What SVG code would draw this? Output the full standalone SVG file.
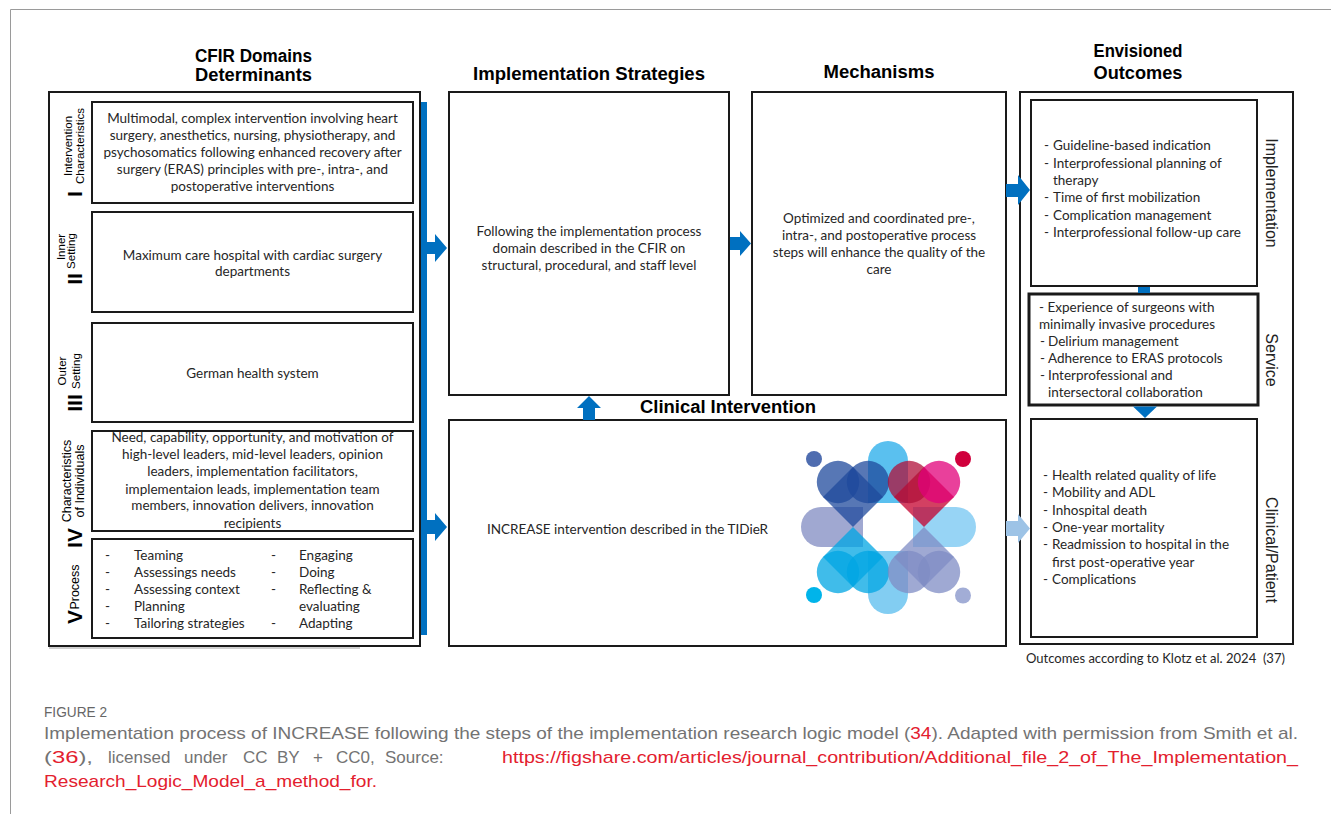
<svg xmlns="http://www.w3.org/2000/svg" width="1331" height="814" viewBox="0 0 1331 814">
<style>
.box{fill:#fff;stroke:#1a1a1a;stroke-width:2}
.t{font-family:Lato,'Liberation Sans',sans-serif;font-size:13.5px;fill:#262626}
.c{text-anchor:middle}
.h{font-family:'Liberation Sans',Arial,sans-serif;font-weight:bold;font-size:18px;fill:#000;text-anchor:middle}
.lab{font-family:'Liberation Sans',Arial,sans-serif;font-size:11.5px;fill:#000;text-anchor:middle}
.num{font-family:'Liberation Sans',Arial,sans-serif;font-weight:bold;font-size:21px;fill:#000;text-anchor:middle}
.side{font-family:'Liberation Sans',Arial,sans-serif;font-size:16px;fill:#222;text-anchor:middle}
.blue{fill:#0070C0}
.cap{font-family:'Liberation Sans',Arial,sans-serif;font-size:17px;fill:#737373}
.red{fill:#E3202E}
.lg{opacity:0.75}
</style>
<rect width="1331" height="814" fill="#fff"/>
<path d="M10.5,814 V9.5 H1331" fill="none" stroke="#9a9a9a" stroke-width="1"/>

<!-- headers -->
<g id="headers">
<text class="h" x="253.5" y="62" textLength="117" lengthAdjust="spacingAndGlyphs">CFIR Domains</text>
<text class="h" x="253.5" y="81" textLength="117" lengthAdjust="spacingAndGlyphs">Determinants</text>
<text class="h" x="589" y="80" textLength="232" lengthAdjust="spacingAndGlyphs">Implementation Strategies</text>
<text class="h" x="879" y="78" textLength="111" lengthAdjust="spacingAndGlyphs">Mechanisms</text>
<text class="h" x="1138" y="57" textLength="89" lengthAdjust="spacingAndGlyphs">Envisioned</text>
<text class="h" x="1138" y="79" textLength="89" lengthAdjust="spacingAndGlyphs">Outcomes</text>
<text class="h" x="728" y="413" textLength="176" lengthAdjust="spacingAndGlyphs">Clinical Intervention</text>
</g>

<!-- CFIR column -->
<g id="cfir">
<rect class="box" x="49" y="92" width="371" height="554"/>
<line x1="49" y1="648" x2="360" y2="648" stroke="#a0a0a0" stroke-width="1"/>
</g>

<g id="cfir-I">
<rect class="box" x="92" y="102" width="321" height="101"/>
<text class="lab" transform="translate(72,146) rotate(-90)">Intervention</text>
<text class="lab" transform="translate(84,146) rotate(-90)">Characteristics</text>
<text class="num" transform="translate(82,194) rotate(-90)">I</text>
<text class="t c" x="252.5" y="123">Multimodal, complex intervention involving heart</text>
<text class="t c" x="252.5" y="140">surgery, anesthetics, nursing, physiotherapy, and</text>
<text class="t c" x="252.5" y="157">psychosomatics following enhanced recovery after</text>
<text class="t c" x="252.5" y="174">surgery (ERAS) principles with pre-, intra-, and</text>
<text class="t c" x="252.5" y="191">postoperative interventions</text>
</g>

<g id="cfir-II">
<rect class="box" x="92" y="212" width="321" height="100"/>
<text class="lab" transform="translate(65,247) rotate(-90)">Inner</text>
<text class="lab" transform="translate(75,251) rotate(-90)">Setting</text>
<text class="num" transform="translate(82,279) rotate(-90)">II</text>
<text class="t c" x="252.5" y="259.5">Maximum care hospital with cardiac surgery</text>
<text class="t c" x="252.5" y="275.5">departments</text>
</g>

<g id="cfir-III">
<rect class="box" x="92" y="323" width="321" height="99"/>
<text class="lab" transform="translate(66,371) rotate(-90)">Outer</text>
<text class="lab" transform="translate(80,371) rotate(-90)">Setting</text>
<text class="num" transform="translate(82,403) rotate(-90)">III</text>
<text class="t c" x="252.5" y="377.5">German health system</text>
</g>

<g id="cfir-IV">
<rect class="box" x="92" y="431" width="321" height="100"/>
<text class="lab" style="font-size:12.5px" transform="translate(71,481) rotate(-90)">Characteristics</text>
<text class="lab" style="font-size:12.5px" transform="translate(84,481) rotate(-90)">of Individuals</text>
<text class="num" transform="translate(82,538) rotate(-90)">IV</text>
<text class="t c" x="252.5" y="442">Need, capability, opportunity, and motivation of</text>
<text class="t c" x="252.5" y="459">high-level leaders, mid-level leaders, opinion</text>
<text class="t c" x="252.5" y="476">leaders, implementation facilitators,</text>
<text class="t c" x="252.5" y="493.5">implementaion leads, implementation team</text>
<text class="t c" x="252.5" y="510">members, innovation delivers, innovation</text>
<text class="t c" x="252.5" y="528">recipients</text>
</g>

<g id="cfir-V">
<rect class="box" x="92" y="539" width="321" height="99"/>
<text class="lab" style="font-size:12.5px" transform="translate(79,587) rotate(-90)">Process</text>
<text class="num" transform="translate(82,617) rotate(-90)">V</text>
<g class="t">
<text x="105" y="560">-</text><text x="134" y="560">Teaming</text>
<text x="105" y="577">-</text><text x="134" y="577">Assessings needs</text>
<text x="105" y="594">-</text><text x="134" y="594">Assessing context</text>
<text x="105" y="611">-</text><text x="134" y="611">Planning</text>
<text x="105" y="628">-</text><text x="134" y="628">Tailoring strategies</text>
<text x="271" y="560">-</text><text x="299" y="560">Engaging</text>
<text x="271" y="577">-</text><text x="299" y="577">Doing</text>
<text x="271" y="594">-</text><text x="299" y="594">Reflecting &amp;</text>
<text x="299" y="611">evaluating</text>
<text x="271" y="628">-</text><text x="299" y="628">Adapting</text>
</g>
</g>

<!-- Implementation strategies -->
<g id="impl-strategies">
<rect class="box" x="449" y="92" width="280" height="303"/>
<text class="t c" x="589" y="235.5">Following the implementation process</text>
<text class="t c" x="589" y="252.5">domain described in the CFIR on</text>
<text class="t c" x="589" y="269.5">structural, procedural, and staff level</text>
</g>

<!-- Mechanisms -->
<g id="mechanisms">
<rect class="box" x="752" y="92" width="254" height="303"/>
<text class="t c" x="879" y="222.5">Optimized and coordinated pre-,</text>
<text class="t c" x="879" y="239.5">intra-, and postoperative process</text>
<text class="t c" x="879" y="256.5">steps will enhance the quality of the</text>
<text class="t c" x="879" y="274">care</text>
</g>

<!-- Clinical intervention -->
<g id="clinical-intervention">
<rect class="box" x="449" y="420" width="557" height="226"/>
<text class="t" x="487" y="533.5">INCREASE intervention described in the TIDieR</text>
<g id="logo">
<circle cx="814" cy="459" r="8" fill="#4F6DB0"/>
<circle cx="963" cy="459" r="8" fill="#D0003C"/>
<circle cx="814" cy="595" r="8" fill="#00B4EA"/>
<circle cx="963" cy="595.5" r="8" fill="#A2ADD6"/>
<path d="M868,503 L868,461 A20,20 0 0 1 908,461 L908,503 Z" fill="#3DB5EC" opacity="0.85"/>
<path d="M868,551 L868,594 A20,20 0 0 0 908,594 L908,551 Z" fill="#6CC4F0" opacity="0.85"/>
<path d="M863,507 L821,507 A20,20 0 0 0 821,547 L863,547 Z" fill="#8F99C9" opacity="0.85"/>
<path d="M913,507 L956,507 A20,20 0 0 1 956,547 L913,547 Z" fill="#85CCF3" opacity="0.85"/>
<g fill="#1F4A9C">
<polygon class="lg" points="853,527 823,497 853,467 883,497"/>
<circle class="lg" cx="838" cy="482" r="21.2"/>
<circle class="lg" cx="868" cy="482" r="21.2"/>
</g>
<g>
<polygon class="lg" fill="#C4002E" points="924,527 894,497 924,467 954,497"/>
<circle class="lg" fill="#B0103A" cx="909" cy="482" r="21.2"/>
<circle class="lg" fill="#E2007A" cx="939" cy="482" r="21.2"/>
</g>
<g fill="#00A6E3">
<polygon class="lg" points="853,527 883,557 853,587 823,557"/>
<circle class="lg" cx="838" cy="572" r="21.2"/>
<circle class="lg" cx="868" cy="572" r="21.2"/>
</g>
<g fill="#7F8CC4">
<polygon class="lg" points="924,527 954,557 924,587 894,557"/>
<circle class="lg" cx="909" cy="572" r="21.2"/>
<circle class="lg" cx="939" cy="572" r="21.2"/>
</g>
</g>
</g>

<!-- Outcomes -->
<g id="outcomes">
<rect class="box" x="1020" y="92" width="273" height="552"/>
<text class="side" transform="translate(1266,193) rotate(90)">Implementation</text>
<text class="side" transform="translate(1266,360) rotate(90)">Service</text>
<text class="side" transform="translate(1266,550) rotate(90)">Clinical/Patient</text>
</g>

<g id="outcome-implementation">
<rect class="box" x="1031" y="100" width="226" height="186"/>
<g class="t">
<text x="1044" y="150">-</text><text x="1053" y="150">Guideline-based indication</text>
<text x="1044" y="167.5">-</text><text x="1053" y="167.5">Interprofessional planning of</text>
<text x="1053" y="184.5">therapy</text>
<text x="1044" y="202">-</text><text x="1053" y="202">Time of first mobilization</text>
<text x="1044" y="219.5">-</text><text x="1053" y="219.5">Complication management</text>
<text x="1044" y="237">-</text><text x="1053" y="237">Interprofessional follow-up care</text>
</g>
</g>

<g id="outcome-service">
<rect class="box" x="1029" y="294" width="229" height="111" style="stroke-width:3"/>
<g class="t">
<text x="1039" y="311.5">- Experience of surgeons with</text>
<text x="1039" y="328.5">minimally invasive procedures</text>
<text x="1040" y="345.5">-</text><text x="1048" y="345.5">Delirium management</text>
<text x="1040" y="362.5">-</text><text x="1048" y="362.5">Adherence to ERAS protocols</text>
<text x="1040" y="379.5">-</text><text x="1048" y="379.5">Interprofessional and</text>
<text x="1048" y="396.5">intersectoral collaboration</text>
</g>
</g>

<g id="outcome-clinical">
<rect class="box" x="1031" y="419" width="226" height="218"/>
<g class="t">
<text x="1043" y="479.5">-</text><text x="1052" y="479.5">Health related quality of life</text>
<text x="1043" y="497">-</text><text x="1052" y="497">Mobility and ADL</text>
<text x="1043" y="514.5">-</text><text x="1052" y="514.5">Inhospital death</text>
<text x="1043" y="531.5">-</text><text x="1052" y="531.5">One-year mortality</text>
<text x="1043" y="549">-</text><text x="1052" y="549">Readmission to hospital in the</text>
<text x="1052" y="566.5">first post-operative year</text>
<text x="1043" y="583.5">-</text><text x="1052" y="583.5">Complications</text>
</g>
</g>

<text class="t" x="1026" y="663" textLength="259" lengthAdjust="spacingAndGlyphs">Outcomes according to Klotz et al. 2024&#160; (37)</text>

<!-- connectors -->
<g id="connectors">
<rect class="blue" x="421" y="102" width="6" height="533"/>
<polygon class="blue" points="427,242 435,242 435,234 447,248 435,262 435,254 427,254"/>
<polygon class="blue" points="427,520 435,520 435,513 447,527 435,541 435,534 427,534"/>
<polygon class="blue" points="730,237 740,237 740,231 751,243.5 740,256 740,250 730,250"/>
<polygon class="blue" points="1006,184 1018,184 1018,175 1030,190 1018,205 1018,197 1006,197"/>
<polygon fill="#9DC3E6" points="1006,521 1018,521 1018,514 1030,528.5 1018,543 1018,536 1006,536"/>
<polygon class="blue" points="583,420 583,408 577,408 589,396 601,408 595,408 595,420"/>
<rect class="blue" x="1138" y="287" width="12" height="6"/>
<polygon class="blue" points="1133,406.5 1157,406.5 1145,418"/>
</g>

<!-- caption -->
<g id="caption">
<text class="cap" x="44" y="717" style="font-size:15px;fill:#666" textLength="63" lengthAdjust="spacingAndGlyphs">FIGURE 2</text>
<text class="cap" x="44" y="739" textLength="1254" lengthAdjust="spacingAndGlyphs">Implementation process of INCREASE following the steps of the implementation research logic model (<tspan class="red">34</tspan>). Adapted with permission from Smith et al.</text>
<text class="cap" x="44" y="763" textLength="49" lengthAdjust="spacingAndGlyphs">(<tspan class="red">36</tspan>),</text>
<text class="cap" x="108" y="763">licensed</text>
<text class="cap" x="184" y="763">under</text>
<text class="cap" x="243" y="763">CC</text>
<text class="cap" x="277" y="763">BY</text>
<text class="cap" x="313" y="763">+</text>
<text class="cap" x="336" y="763">CC0,</text>
<text class="cap" x="385" y="763">Source:</text>
<text class="cap red" x="502" y="763" textLength="796" lengthAdjust="spacingAndGlyphs">https://figshare.com/articles/journal_contribution/Additional_file_2_of_The_Implementation_</text>
<text class="cap red" x="44" y="787" textLength="333" lengthAdjust="spacingAndGlyphs">Research_Logic_Model_a_method_for.</text>
</g>
</svg>
